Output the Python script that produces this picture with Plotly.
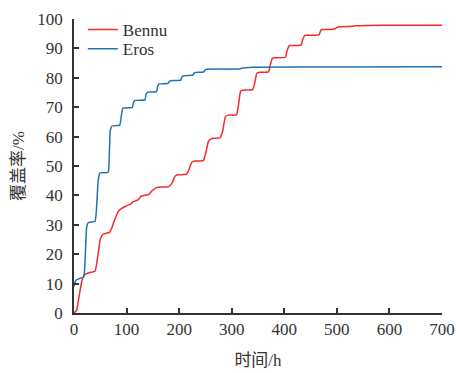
import plotly.graph_objects as go

bennu_t = [0, 5, 10, 15, 20, 30, 40, 45, 50, 55, 68, 72, 78, 84, 90, 100, 108, 112, 122, 128,
           142, 148, 155, 160, 180, 186, 192, 198, 214, 218, 224, 230, 246, 250, 256, 262,
           278, 283, 288, 294, 309, 313, 317, 322, 340, 344, 348, 354, 370, 373, 377, 381,
           402, 405, 409, 413, 432, 435, 439, 443, 466, 468, 470, 474, 496, 499, 502, 530,
           535, 560, 620, 700]
bennu_cov = [0, 1, 6, 11, 13, 13.8, 14.2, 19, 25, 26.8, 27.5, 29, 32, 34.5, 35.5, 36.5, 37, 37.8, 38.5, 39.8,
             40.3, 41.5, 42.5, 42.8, 43, 44, 46.5, 47, 47.2, 48.5, 51.3, 51.7, 51.8, 54, 58.5, 59.3,
             59.6, 62, 66.8, 67.3, 67.4, 71, 75.5, 75.8, 76, 78.5, 81.6, 81.9, 82, 84, 86.5, 86.8,
             87, 89, 90.8, 91, 91.1, 93, 94.4, 94.5, 94.6, 95.5, 96.2, 96.4, 96.6, 97, 97.3, 97.5,
             97.7, 97.8, 97.9, 97.9]

eros_t = [0, 2, 5, 10, 18, 20, 22, 24, 27, 40, 43, 46, 49, 65, 67, 69, 72, 87, 90, 93, 111, 113,
          116, 135, 137, 140, 157, 159, 162, 179, 181, 184, 203, 205, 208, 226, 228, 231, 247,
          249, 252, 300, 315, 320, 340, 520, 700]
eros_cov = [9, 10.5, 11.3, 11.7, 12.2, 14, 22, 29, 30.7, 31.2, 36, 45, 47.6, 47.9, 53, 62, 63.6, 63.9,
            67, 69.7, 69.9, 71.5, 72.3, 72.5, 74.3, 75.1, 75.3, 77, 77.9, 78.1, 78.7, 79.0, 79.2,
            80.2, 80.7, 80.9, 81.5, 81.8, 82, 82.6, 82.9, 82.95, 83.0, 83.3, 83.6, 83.7, 83.8]

x_ticks = [0, 100, 200, 300, 400, 500, 600, 700]
y_ticks = [0, 10, 20, 30, 40, 50, 60, 70, 80, 90, 100]

font_family = "Liberation Serif"
cjk_family = "Liberation Serif, Noto Sans CJK SC"
txt = "#333333"

fig = go.Figure()
fig.add_trace(go.Scatter(x=bennu_t, y=bennu_cov, mode="lines", name="Bennu", legend="legend",
                         showlegend=True,
                         line=dict(color="#f52a2a", width=1.5, shape="spline", smoothing=0.4)))
fig.add_trace(go.Scatter(x=eros_t, y=eros_cov, mode="lines", name="Eros", legend="legend2",
                         showlegend=True,
                         line=dict(color="#1f72b8", width=1.5, shape="spline", smoothing=0.4)))

axis_common = dict(showline=True, linecolor=txt, linewidth=1.5, ticks="inside",
                   ticklen=5, tickwidth=1.5, tickcolor=txt, showgrid=False, automargin=False,
                   zeroline=False, tickfont=dict(family=font_family, size=17, color=txt))

leg_common = dict(x=0.024, xanchor="left", yanchor="middle", bgcolor="rgba(0,0,0,0)",
                  font=dict(family=font_family, size=17, color=txt), itemwidth=30)

fig.update_layout(
    width=457, height=373,
    margin=dict(l=74, r=15, t=16, b=60),
    plot_bgcolor="white", paper_bgcolor="white",
    showlegend=True,
    font=dict(family=font_family, color=txt),
    xaxis=dict(range=[0, 700], tickvals=x_ticks, title=dict(text="时间/h", standoff=16,
               font=dict(family=cjk_family, size=17, color=txt)), **axis_common),
    yaxis=dict(range=[0, 100], tickvals=y_ticks, ticklabelstandoff=6,
               title=dict(text="覆盖率/%", standoff=8,
                          font=dict(family=cjk_family, size=17, color=txt)), **axis_common),
    legend=dict(y=(313 - 27) / 297, **leg_common),
    legend2=dict(y=(313 - 46.5) / 297, **leg_common),
)

fig.write_html("out.html")
